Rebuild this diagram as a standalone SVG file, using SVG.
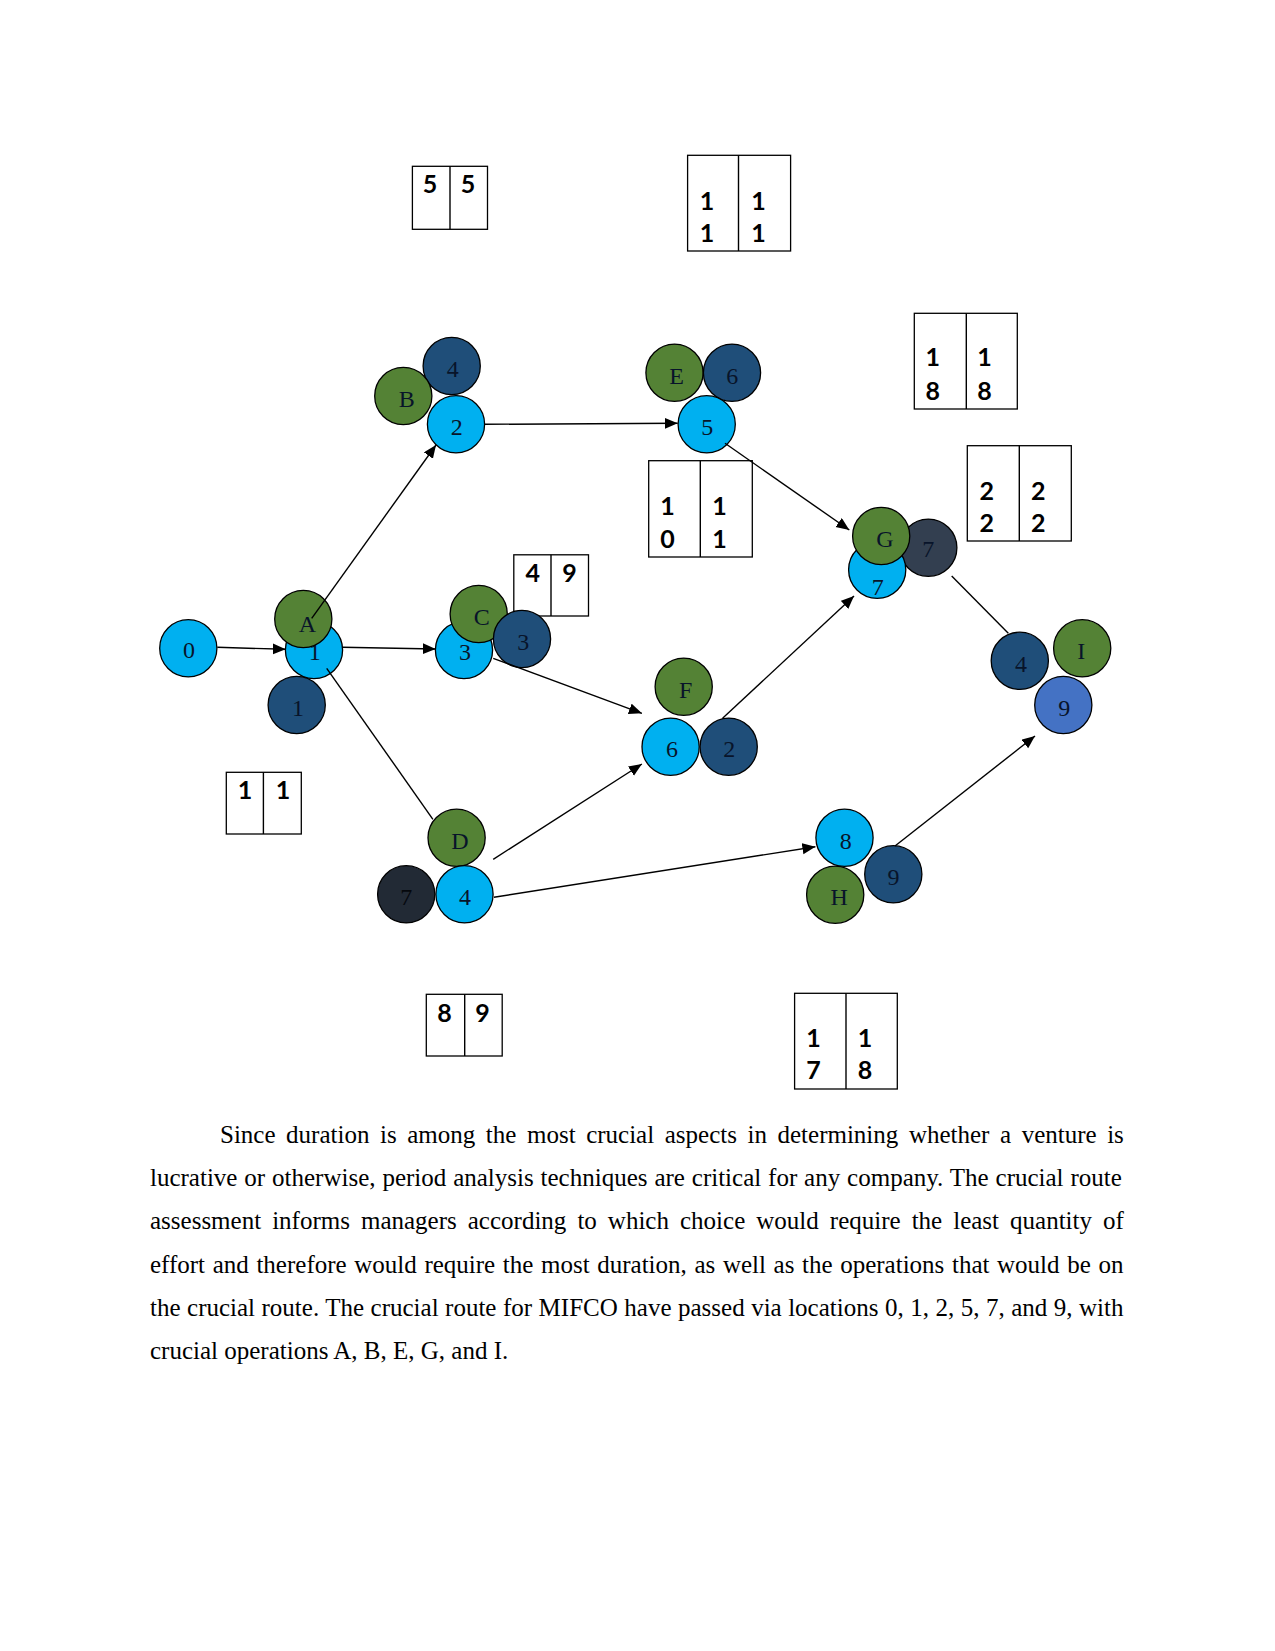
<svg xmlns="http://www.w3.org/2000/svg" width="1275" height="1651" viewBox="0 0 1275 1651">
<style>
.c{stroke:#000;stroke-width:1.3}
.lb{fill:#00B0F0}.gr{fill:#548235}.db{fill:#1F4E79}.sl{fill:#333F50}.bk{fill:#222A35}.bl{fill:#4472C4}
.t{font-family:"Liberation Serif","Times New Roman",serif;font-size:24px;text-anchor:middle;fill:#08142a}
.bx{fill:#fff;stroke:#000;stroke-width:1.3}
.bt{font-family:Lato,"Liberation Sans",sans-serif;font-weight:bold;font-size:25px;text-anchor:middle;fill:#000}
.ln{stroke:#000;stroke-width:1.4;fill:none}
.ar{marker-end:url(#ah)}
.p{font-family:"Liberation Serif","Times New Roman",serif;font-size:25px;fill:#000}
</style>
<defs>
<marker id="ah" markerUnits="userSpaceOnUse" markerWidth="14" markerHeight="12" refX="13" refY="5.5" orient="auto">
<path d="M0,0 L13,5.5 L0,11 Z" fill="#000"/>
</marker>
</defs>
<rect width="1275" height="1651" fill="#fff"/>

<g id="boxes">
<g id="box-5-5"><rect class="bx" x="412.4" y="166.3" width="75.1" height="63"/><line class="ln" x1="450" y1="166.3" x2="450" y2="229.3"/><text class="bt" x="430" y="193.3">5</text><text class="bt" x="468" y="193.3">5</text></g>
<g id="box-11-11"><rect class="bx" x="687.6" y="155.3" width="103" height="95.7"/><line class="ln" x1="738.5" y1="155.3" x2="738.5" y2="251"/><text class="bt" x="707" y="210">1</text><text class="bt" x="707" y="241.7">1</text><text class="bt" x="758.5" y="210">1</text><text class="bt" x="758.5" y="241.7">1</text></g>
<g id="box-18-18"><rect class="bx" x="914.3" y="313.3" width="103" height="95.7"/><line class="ln" x1="966.3" y1="313.3" x2="966.3" y2="409"/><text class="bt" x="932.7" y="365.7">1</text><text class="bt" x="932.7" y="400">8</text><text class="bt" x="984.5" y="365.7">1</text><text class="bt" x="984.5" y="400">8</text></g>
<g id="box-22-22"><rect class="bx" x="967.3" y="445.7" width="104" height="95.3"/><line class="ln" x1="1019.3" y1="445.7" x2="1019.3" y2="541"/><text class="bt" x="986.7" y="500">2</text><text class="bt" x="986.7" y="531.7">2</text><text class="bt" x="1038.3" y="500">2</text><text class="bt" x="1038.3" y="531.7">2</text></g>
<g id="box-10-11"><rect class="bx" x="648.7" y="460.7" width="103.6" height="96.3"/><line class="ln" x1="700.3" y1="460.7" x2="700.3" y2="557"/><text class="bt" x="667.5" y="515">1</text><text class="bt" x="667.5" y="548.3">0</text><text class="bt" x="719.5" y="515">1</text><text class="bt" x="719.5" y="548.3">1</text></g>
<g id="box-4-9"><rect class="bx" x="513.8" y="554.8" width="74.7" height="61.2"/><line class="ln" x1="551" y1="554.8" x2="551" y2="616"/><text class="bt" x="532.7" y="582">4</text><text class="bt" x="569.6" y="582">9</text></g>
<g id="box-1-1"><rect class="bx" x="226.3" y="772.3" width="75" height="61.7"/><line class="ln" x1="263.4" y1="772.3" x2="263.4" y2="834"/><text class="bt" x="245" y="799.3">1</text><text class="bt" x="283" y="799.3">1</text></g>
<g id="box-8-9"><rect class="bx" x="426.3" y="994.3" width="75.9" height="61.7"/><line class="ln" x1="464.7" y1="994.3" x2="464.7" y2="1056"/><text class="bt" x="444.4" y="1022">8</text><text class="bt" x="482.4" y="1022">9</text></g>
<g id="box-17-18"><rect class="bx" x="794.6" y="993.3" width="102.7" height="95.7"/><line class="ln" x1="846" y1="993.3" x2="846" y2="1089"/><text class="bt" x="813.5" y="1046.7">1</text><text class="bt" x="813.5" y="1079.3">7</text><text class="bt" x="865" y="1046.7">1</text><text class="bt" x="865" y="1079.3">8</text></g>
</g>

<g id="node-0"><circle class="c lb" cx="188.3" cy="648.3" r="28.6"/><text class="t" x="189" y="658.3">0</text></g>
<g id="node-1">
<circle class="c lb" cx="314" cy="650" r="28.6"/><text class="t" x="314.7" y="660">1</text>
<circle class="c gr" cx="303.3" cy="619" r="28.6"/><text class="t" x="307.3" y="631.7">A</text>
<circle class="c db" cx="296.7" cy="705" r="28.6"/><text class="t" x="298" y="715.7">1</text>
</g>
<g id="node-2">
<circle class="c db" cx="451.7" cy="366" r="28.6"/><text class="t" x="452.7" y="376.7">4</text>
<circle class="c gr" cx="403.3" cy="396" r="28.6"/><text class="t" x="406.7" y="407.3">B</text>
<circle class="c lb" cx="456" cy="424.3" r="28.6"/><text class="t" x="456.7" y="435">2</text>
</g>
<g id="node-3">
<circle class="c lb" cx="464" cy="650" r="28.6"/><text class="t" x="465" y="660">3</text>
<circle class="c gr" cx="478.7" cy="614" r="28.6"/><text class="t" x="481.7" y="625">C</text>
<circle class="c db" cx="522" cy="639" r="28.6"/><text class="t" x="523.3" y="650">3</text>
</g>
<g id="node-5">
<circle class="c gr" cx="674.5" cy="372.7" r="28.6"/><text class="t" x="676.7" y="384">E</text>
<circle class="c db" cx="732" cy="372.7" r="28.6"/><text class="t" x="732.3" y="384">6</text>
<circle class="c lb" cx="706.7" cy="424.3" r="28.6"/><text class="t" x="707.3" y="435">5</text>
</g>
<g id="node-7">
<circle class="c sl" cx="928.3" cy="547.7" r="28.6"/><text class="t" x="928.3" y="557.3">7</text>
<circle class="c lb" cx="877.2" cy="569.8" r="28.6"/><text class="t" x="877.7" y="595">7</text>
<circle class="c gr" cx="881.2" cy="536" r="28.6"/><text class="t" x="885" y="547.3">G</text>
</g>
<g id="node-6">
<circle class="c gr" cx="683.7" cy="686.7" r="28.6"/><text class="t" x="685.6" y="698.3">F</text>
<circle class="c lb" cx="670.6" cy="746.7" r="28.6"/><text class="t" x="671.9" y="757.3">6</text>
<circle class="c db" cx="728.7" cy="746.7" r="28.6"/><text class="t" x="729.2" y="757.3">2</text>
</g>
<g id="node-4">
<circle class="c gr" cx="456.6" cy="837.8" r="28.6"/><text class="t" x="459.9" y="849.3">D</text>
<circle class="c bk" cx="406.2" cy="894.3" r="28.6"/><text class="t" x="406.2" y="905" fill="#05080d" style="fill:#05080d">7</text>
<circle class="c lb" cx="464.5" cy="894.3" r="28.6"/><text class="t" x="465" y="905">4</text>
</g>
<g id="node-8">
<circle class="c lb" cx="844.5" cy="837.8" r="28.6"/><text class="t" x="845.8" y="849">8</text>
<circle class="c gr" cx="835.2" cy="894.7" r="28.6"/><text class="t" x="839.1" y="905">H</text>
<circle class="c db" cx="893.3" cy="874.3" r="28.6"/><text class="t" x="893.5" y="885">9</text>
</g>
<g id="node-9">
<circle class="c db" cx="1019.8" cy="660.8" r="28.6"/><text class="t" x="1021" y="671.7">4</text>
<circle class="c gr" cx="1082.2" cy="648.3" r="28.6"/><text class="t" x="1081.3" y="659.3">I</text>
<circle class="c bl" cx="1063.3" cy="705" r="28.6"/><text class="t" x="1064.3" y="715.7">9</text>
</g>

<g id="connectors">
<line class="ln ar" x1="217.3" y1="647.3" x2="285.7" y2="649.3"/>
<line class="ln ar" x1="342.3" y1="647.3" x2="435.7" y2="649"/>
<line class="ln ar" x1="311.7" y1="618.3" x2="436" y2="445"/>
<line class="ln" x1="326.7" y1="668.3" x2="432.9" y2="819.3"/>
<line class="ln ar" x1="485" y1="424.3" x2="677.7" y2="423.3"/>
<line class="ln ar" x1="725" y1="443.3" x2="849.3" y2="530"/>
<line class="ln ar" x1="493.2" y1="658.3" x2="641.9" y2="713.3"/>
<line class="ln ar" x1="493.2" y1="859.3" x2="641.9" y2="764"/>
<line class="ln ar" x1="493.9" y1="897.3" x2="815.4" y2="846.7"/>
<line class="ln ar" x1="722.6" y1="718.3" x2="854" y2="596"/>
<line class="ln" x1="951.7" y1="576" x2="1008.3" y2="633.3"/>
<line class="ln ar" x1="895" y1="846" x2="1035" y2="736"/>
</g>

<g id="paragraph">
<text class="p" x="220" y="1143" word-spacing="4.32">Since duration is among the most crucial aspects in determining whether a venture is</text>
<text class="p" x="150" y="1186.2" word-spacing="0.64">lucrative or otherwise, period analysis techniques are critical for any company. The crucial route</text>
<text class="p" x="150" y="1229.4" word-spacing="4.79">assessment informs managers according to which choice would require the least quantity of</text>
<text class="p" x="150" y="1272.6" word-spacing="1.38">effort and therefore would require the most duration, as well as the operations that would be on</text>
<text class="p" x="150" y="1315.8" word-spacing="0.25">the crucial route. The crucial route for MIFCO have passed via locations 0, 1, 2, 5, 7, and 9, with</text>
<text class="p" x="150" y="1359">crucial operations A, B, E, G, and I.</text>
</g>
</svg>
